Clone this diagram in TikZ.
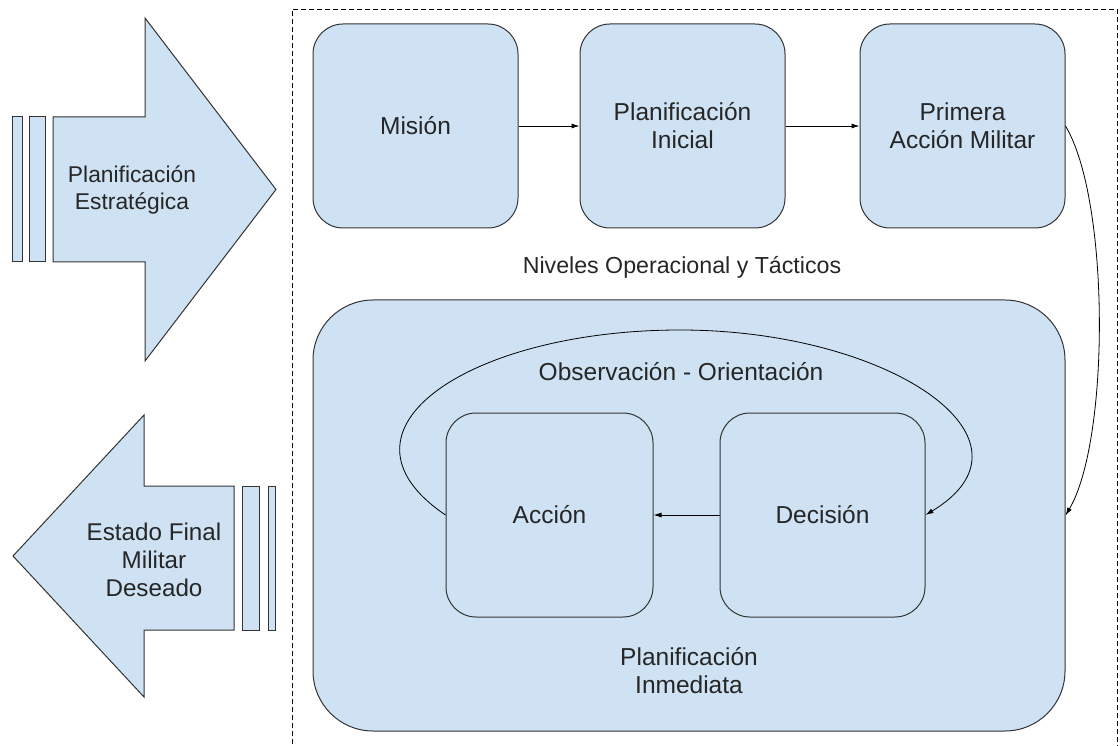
\documentclass[tikz,border=0pt]{standalone}
\usepackage{fontspec}
\setmainfont{Liberation Sans}
\usetikzlibrary{arrows.meta,positioning,calc}
\definecolor{boxblue}{HTML}{CFE2F3}
\definecolor{edgegray}{HTML}{333333}

\begin{document}
\begin{tikzpicture}[x=1pt, y=-1pt,
    font=\fontsize{24.5}{28}\selectfont,
    txt/.style={text=black!85, align=center},
    block/.style={draw=edgegray, line width=1pt, fill=boxblue, rounded corners=30pt,
        minimum width=205pt, minimum height=204pt, txt},
    shapefill/.style={draw=edgegray, line width=1pt, fill=boxblue},
    flow/.style={draw=black, line width=0.8pt, -{Latex[length=8pt,width=5pt]}}]
    \clip (0,0) rectangle (1120,746);

    % --- Dashed frame ---
    \draw[dashed, dash pattern=on 5pt off 3pt, line width=0.8pt] (292,760) -- (292,9) -- (1117,9) -- (1117,760);

    % --- Strategic arrow (right) ---
    \draw[shapefill] (12,117) rectangle (22,262);
    \draw[shapefill] (29,117) rectangle (45,262);
    \draw[shapefill] (53,117) -- (145,117) -- (145,18) -- (276,189.5) -- (145,361) -- (145,262) -- (53,262) -- cycle;
    \node[txt, font=\fontsize{22.8}{26.5}\selectfont] (estrategica) at (132,190) {Planificación\\Estratégica};

    % --- End state arrow (left) ---
    \draw[shapefill] (242,486) rectangle (259,630);
    \draw[shapefill] (268,486) rectangle (275,630);
    \draw[shapefill] (13,556) -- (144,415) -- (144,486) -- (234,486) -- (234,630) -- (144,630) -- (144,697) -- cycle;
    \node[txt, font=\fontsize{24.2}{28}\selectfont] (estadofinal) at (154,560) {Estado Final\\Militar\\Deseado};

    % --- Top row ---
    \node[block] (mision) at (415.5,126) {Misión};
    \node[block] (inicial) at (682.5,126) {Planificación\\Inicial};
    \node[block] (primera) at (962.5,126) {Primera\\Acción Militar};
    \draw[flow] (mision) -- (inicial);
    \draw[flow] (inicial) -- (primera);

    \node[txt, font=\fontsize{23.2}{28}\selectfont] (niveles) at (682,267) {Niveles Operacional y Tácticos};

    % --- Immediate planning ---
    \node[block, rounded corners=60pt, minimum width=752pt, minimum height=431pt] (inmediata) at (689,515.5) {};
    \node[txt] (inmediatatxt) at (689,671) {Planificación\\Inmediata};
    \node[block, minimum width=207pt] (accion) at (549.5,515) {Acción};
    \node[block] (decision) at (822.5,515) {Decisión};
    \draw[flow] (decision) -- (accion);

    % OODA loop
    \draw[flow] (accion.west) .. controls (320,430) and (470,330) .. (680,330)
        .. controls (890,330) and (1050,440) .. (decision.east);
    \node[txt] (observacion) at (681,372) {Observación - Orientación};

    % into the loop
    \draw[flow] (primera.east) .. controls (1110,200) and (1110,440) .. (inmediata.east);
\end{tikzpicture}
\end{document}
